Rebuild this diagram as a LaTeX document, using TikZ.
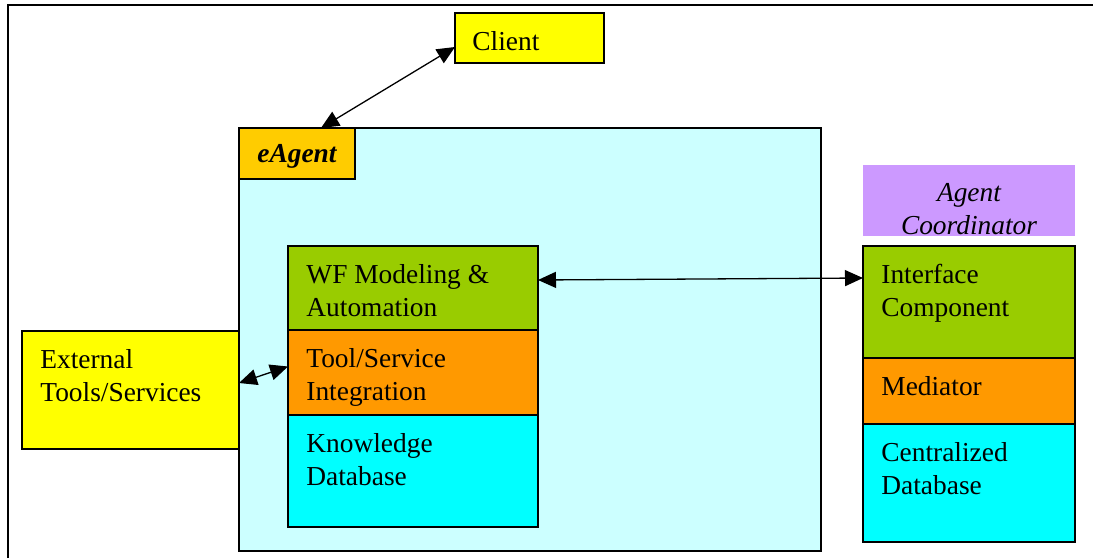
\documentclass[tikz,border=0pt]{standalone}
\usepackage{fontspec}
\setmainfont{Liberation Serif}
\usetikzlibrary{positioning,arrows.meta,backgrounds}

\definecolor{agentbg}{HTML}{CCFFFF}
\definecolor{tagorange}{HTML}{FFCC00}
\definecolor{boxyellow}{HTML}{FFFF00}
\definecolor{boxgreen}{HTML}{99CC00}
\definecolor{boxorange}{HTML}{FF9900}
\definecolor{boxcyan}{HTML}{00FFFF}
\definecolor{boxlilac}{HTML}{CC99FF}

\tikzset{
  box/.style={draw, line width=0.7pt, anchor=north west, inner sep=0pt, outer sep=0pt},
  txt/.style={anchor=north west, align=left, inner sep=0pt, xshift=9pt, yshift=-9pt},
  title/.style={anchor=north, align=center, inner sep=0pt, yshift=-9pt,
                font=\fontsize{13.7pt}{16.5pt}\selectfont\itshape},
  link/.style={<->, line width=0.65pt, >={Triangle[length=9pt,width=8pt]}}
}

\begin{document}
\begin{tikzpicture}[x=0.5pt, y=-0.5pt, font=\fontsize{13.7pt}{16.5pt}\selectfont]
  \useasboundingbox (0,0) rectangle (1093,558);
  % frame
  \draw[line width=1pt] (7.5,558) -- (7.5,5) -- (1093,5);

  % eAgent
  \node[box, fill=agentbg, minimum width=291pt, minimum height=211.5pt] (eagent) at (239,128) {};
  \node[box, fill=tagorange, minimum width=58pt, minimum height=25.5pt,
        label={[txt, yshift=1pt, font=\fontsize{13.7pt}{16.5pt}\selectfont\bfseries\itshape]north west:eAgent}] (eagenttag) at (239,128) {};

  % eAgent parts
  \node[box, fill=boxgreen, minimum width=125pt, minimum height=42pt,
        label={[txt]north west:WF Modeling \&\\Automation}] (wf) at (288,246) {};
  \node[box, fill=boxorange, minimum width=125pt, minimum height=42.5pt, anchor=north,
        below=0pt of wf, label={[txt]north west:Tool/Service\\Integration}] (tool) {};
  \node[box, fill=boxcyan, minimum width=125pt, minimum height=56pt, anchor=north,
        below=0pt of tool, label={[txt]north west:Knowledge\\Database}] (know) {};

  % client and external tools
  \node[box, fill=boxyellow, minimum width=74.5pt, minimum height=25pt,
        label={[txt, xshift=-0.5pt]north west:Client}] (client) at (455,13) {};
  \node[box, fill=boxyellow, minimum width=108.5pt, minimum height=59pt,
        label={[txt]north west:External\\Tools/Services}] (ext) at (22,331) {};

  % agent coordinator
  \node[anchor=north west, inner sep=0pt, outer sep=0pt, fill=boxlilac, minimum width=106pt, minimum height=35.5pt,
        label={[title]north:Agent\\Coordinator}] (coord) at (863,165) {};
  \node[box, fill=boxgreen, minimum width=106pt, minimum height=56pt,
        label={[txt]north west:Interface\\Component}] (iface) at (863,246) {};
  \node[box, fill=boxorange, minimum width=106pt, minimum height=33pt, anchor=north,
        below=0pt of iface, label={[txt]north west:Mediator}] (med) {};
  \node[box, fill=boxcyan, minimum width=106pt, minimum height=59pt, anchor=north,
        below=0pt of med, label={[txt]north west:Centralized\\Database}] (cdb) {};

  % links
  \begin{scope}[on background layer]
    \draw[link] ([yshift=-4.5pt]client.west) -- ([xshift=41pt]eagenttag.north west);
  \end{scope}
  \draw[link] ([yshift=3.5pt]ext.east) -- ([yshift=3pt]tool.west);
  \draw[link] ([yshift=4pt]wf.east) -- ([yshift=12pt]iface.west);
\end{tikzpicture}
\end{document}
